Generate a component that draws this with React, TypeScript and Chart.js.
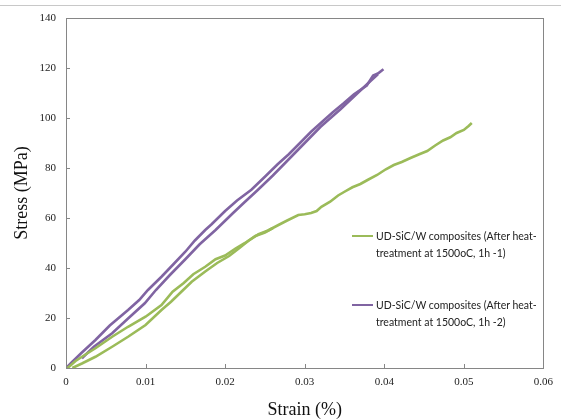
import React, { useEffect, useRef } from "react";
import { Chart, registerables } from "chart.js";

Chart.register(...registerables);

// Series 1 (green): main loading path
const green1X = [0.0008, 0.002, 0.0037, 0.0058, 0.0078, 0.01, 0.012, 0.0132, 0.0145, 0.0158, 0.0175, 0.019, 0.0205, 0.0218, 0.0229, 0.0242, 0.0254, 0.0267, 0.0278, 0.0292, 0.03, 0.0308, 0.0315, 0.0321, 0.0332, 0.0342, 0.035, 0.036, 0.037, 0.0379, 0.0391, 0.0402, 0.0412, 0.0422, 0.0433, 0.0444, 0.0454, 0.0464, 0.0474, 0.0483, 0.0491, 0.05, 0.0506, 0.051];
const green1Y = [0, 1.8, 4.5, 8.5, 12.5, 17.2, 23.2, 26.5, 30.5, 34.5, 38.6, 42, 44.8, 48, 50.8, 53.5, 55, 57.2, 59, 61.2, 61.5, 62, 62.8, 64.5, 66.5, 69, 70.5, 72.3, 73.6, 75.2, 77.2, 79.5, 81.2, 82.4, 84, 85.5, 86.8, 89, 91, 92.3, 94, 95.2, 96.8, 98];
// Series 1 (green): second branch of the loop
const green2X = [0.0002, 0.0012, 0.0025, 0.0037, 0.0058, 0.0078, 0.01, 0.012, 0.0134, 0.0148, 0.016, 0.0175, 0.0188, 0.02, 0.0213, 0.0225, 0.0238, 0.025, 0.026];
const green2Y = [0, 2.8, 5.5, 7.9, 12.5, 16.5, 20.5, 25.2, 30.5, 34, 37.5, 40.5, 43.5, 45, 47.8, 50, 52.8, 54.2, 56];

// Series 2 (purple): main loading path
const purple1X = [0, 0.0008, 0.002, 0.0037, 0.0055, 0.0078, 0.0092, 0.0103, 0.012, 0.0135, 0.015, 0.0162, 0.0175, 0.0183, 0.02, 0.0215, 0.0233, 0.025, 0.0266, 0.028, 0.0295, 0.0308, 0.0322, 0.0335, 0.0349, 0.0362, 0.0378, 0.0386, 0.0392, 0.0399];
const purple1Y = [0, 2.5, 6.2, 11.2, 17, 23.2, 27.2, 31.2, 36.5, 41.5, 46.5, 51, 55.2, 57.5, 62.8, 67, 71.3, 76.5, 81.5, 85.5, 90.3, 94.5, 98.5, 102.2, 105.9, 109.5, 113, 117, 117.8, 119.5];
// Series 2 (purple): second branch of the loop
const purple2X = [0.002, 0.0035, 0.0058, 0.0078, 0.0099, 0.0113, 0.013, 0.015, 0.0168, 0.0188, 0.021, 0.0225, 0.0241, 0.026, 0.028, 0.03, 0.032, 0.0345, 0.0365, 0.038, 0.0392];
const purple2Y = [3.9, 8.5, 13.9, 19.8, 25.9, 31.2, 37, 43.5, 49.5, 55.2, 62, 66.5, 71.2, 77, 83.5, 90, 96.5, 103.5, 109.5, 114, 117.5];

const seriesNames = [
  ["UD-SiC/W composites (After heat-", "treatment at 1500oC, 1h -1)"],
  ["UD-SiC/W composites (After heat-", "treatment at 1500oC, 1h -2)"],
];
const GREEN = "#9BBB59";
const PURPLE = "#8064A2";

const xMin = 0, xMax = 0.06, xStep = 0.01;
const yMin = 0, yMax = 140, yStep = 20;

const toPts = (xs: number[], ys: number[]) => xs.map((x, i) => ({ x, y: ys[i] }));

const frameAndTicks = {
  id: "frameAndTicks",
  afterDraw(chart: any) {
    const { ctx, chartArea: a, scales } = chart;
    ctx.save();
    ctx.strokeStyle = "#868686";
    ctx.lineWidth = 1;
    ctx.strokeRect(Math.round(a.left) + 0.5, Math.round(a.top) + 0.5, Math.round(a.right - a.left), Math.round(a.bottom - a.top));
    ctx.beginPath();
    scales.x.ticks.forEach((t: any) => {
      const px = Math.round(scales.x.getPixelForValue(t.value)) + 0.5;
      ctx.moveTo(px, a.bottom);
      ctx.lineTo(px, a.bottom - 4);
    });
    scales.y.ticks.forEach((t: any) => {
      const py = Math.round(scales.y.getPixelForValue(t.value)) + 0.5;
      ctx.moveTo(a.left, py);
      ctx.lineTo(a.left + 4, py);
    });
    ctx.stroke();
    ctx.restore();
  },
};

export default function App() {
  const ref = useRef<HTMLCanvasElement>(null);
  useEffect(() => {
    const ds = (label: string, pts: any[], color: string) => ({
      label,
      data: pts,
      showLine: true,
      borderColor: color,
      backgroundColor: color,
      borderWidth: 2.6,
      pointRadius: 0,
      tension: 0,
      fill: false,
    });
    const chart = new Chart(ref.current!, {
      type: "scatter",
      data: {
        datasets: [
          ds(seriesNames[0].join(" "), toPts(green1X, green1Y), GREEN),
          ds(seriesNames[0].join(" ") + " (b)", toPts(green2X, green2Y), GREEN),
          ds(seriesNames[1].join(" "), toPts(purple1X, purple1Y), PURPLE),
          ds(seriesNames[1].join(" ") + " (b)", toPts(purple2X, purple2Y), PURPLE),
        ],
      },
      options: {
        animation: false,
        responsive: true,
        maintainAspectRatio: false,
        layout: { padding: { left: 0, top: 18, right: 11, bottom: 0 } },
        plugins: { legend: { display: false }, tooltip: { enabled: false } },
        scales: {
          x: {
            type: "linear",
            min: xMin,
            max: xMax,
            afterFit: (s: any) => { s.height = 51; },
            grid: { display: false, drawTicks: false },
            border: { display: false },
            ticks: {
              stepSize: xStep,
              padding: 8,
              color: "#222",
              font: { family: "'Liberation Serif', 'Times New Roman', serif", size: 11 },
              callback: (v: any) => (Number(v) === 0 ? "0" : Number(v).toFixed(2)),
            },
            title: {
              display: true,
              text: "Strain (%)",
              color: "#111",
              padding: { top: 0, bottom: 0 },
              font: { family: "'Liberation Serif', 'Times New Roman', serif", size: 18, lineHeight: 1 },
            },
          },
          y: {
            type: "linear",
            min: yMin,
            max: yMax,
            afterFit: (s: any) => { s.width = 66; },
            grid: { display: false, drawTicks: false },
            border: { display: false },
            ticks: {
              stepSize: yStep,
              padding: 10,
              color: "#222",
              font: { family: "'Liberation Serif', 'Times New Roman', serif", size: 11 },
            },
            title: {
              display: true,
              text: "Stress (MPa)",
              color: "#111",
              padding: { top: 13, bottom: 0 },
              font: { family: "'Liberation Serif', 'Times New Roman', serif", size: 18, lineHeight: 1 },
            },
          },
        },
      },
      plugins: [frameAndTicks],
    });
    return () => chart.destroy();
  }, []);

  const legendFont = "Lato, 'Open Sans', sans-serif";
  const legendItem = (top: number, color: string, lines: string[]) => (
    <div style={{ position: "absolute", left: 352, top, fontFamily: legendFont, fontSize: 10.5, color: "#222", lineHeight: "16.7px" }}>
      <div style={{ position: "absolute", left: 0, top: 7, width: 21, height: 0, borderTop: `2.6px solid ${color}` }} />
      <div style={{ marginLeft: 24, whiteSpace: "nowrap" }}>
        {lines.map((l, i) => (
          <div key={i}>{l}</div>
        ))}
      </div>
    </div>
  );

  return (
    <div style={{ position: "fixed", left: 0, top: 0, width: 561, height: 419, background: "#fff" }}>
      <div style={{ position: "absolute", left: 0, top: 5, width: 561, height: 0, borderTop: "1px solid #c8c8c8" }} />
      <canvas ref={ref} style={{ position: "absolute", left: 0, top: 0, width: 561, height: 419 }} />
      {legendItem(228, GREEN, seriesNames[0])}
      {legendItem(297, PURPLE, seriesNames[1])}
    </div>
  );
}
